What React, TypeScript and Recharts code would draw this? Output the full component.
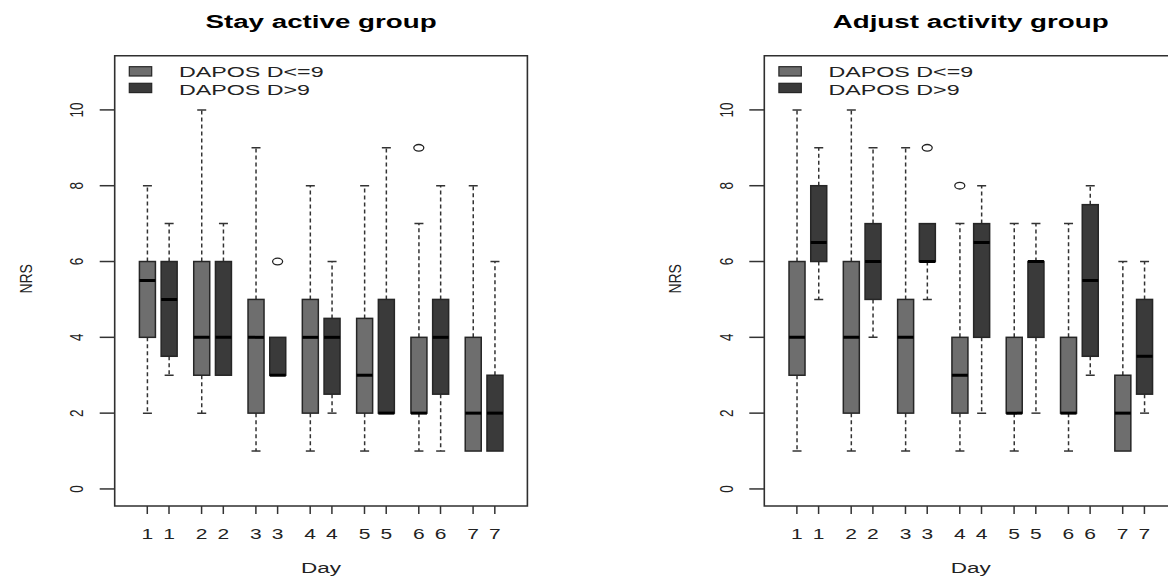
import React from 'react';
import { ComposedChart, Bar, Scatter, XAxis, YAxis, ReferenceArea } from 'recharts';

const positions = [1, 1.4, 2, 2.4, 3, 3.4, 4, 4.4, 5, 5.4, 6, 6.4, 7, 7.4];
const dayLabels = ['1', '1', '2', '2', '3', '3', '4', '4', '5', '5', '6', '6', '7', '7'];
const seriesNames = ['DAPOS D<=9', 'DAPOS D>9'];
const seriesColors = ['#6e6e6e', '#3a3a3a'];
const yTicks = [0, 2, 4, 6, 8, 10];
const xDomain = [0.4, 8.0];
const yDomain = [-0.45, 11.43];

// Stay active group
const stayMin = [2, 3, 2, 3, 1, 3, 1, 2, 1, 2, 1, 1, 1, 1];
const stayQ1 = [4, 3.5, 3, 3, 2, 3, 2, 2.5, 2, 2, 2, 2.5, 1, 1];
const stayMed = [5.5, 5, 4, 4, 4, 3, 4, 4, 3, 2, 2, 4, 2, 2];
const stayQ3 = [6, 6, 6, 6, 5, 4, 5, 4.5, 4.5, 5, 4, 5, 4, 3];
const stayMax = [8, 7, 10, 7, 9, 4, 8, 6, 8, 9, 7, 8, 8, 6];
const stayOutliers = [
  { x: 3.4, y: 6 },
  { x: 6, y: 9 },
];

// Adjust activity group
const adjMin = [1, 5, 1, 4, 1, 5, 1, 2, 1, 2, 1, 3, 1, 2];
const adjQ1 = [3, 6, 2, 5, 2, 6, 2, 4, 2, 4, 2, 3.5, 1, 2.5];
const adjMed = [4, 6.5, 4, 6, 4, 6, 3, 6.5, 2, 6, 2, 5.5, 2, 3.5];
const adjQ3 = [6, 8, 6, 7, 5, 7, 4, 7, 4, 6, 4, 7.5, 3, 5];
const adjMax = [10, 9, 10, 9, 9, 7, 7, 8, 7, 7, 7, 8, 6, 6];
const adjOutliers = [
  { x: 3.4, y: 9 },
  { x: 4, y: 8 },
];

const FONT = '"Liberation Sans", Arial, Helvetica, sans-serif';
const SX = 1.5;

const buildRows = (mn: number[], q1: number[], md: number[], q3: number[], mx: number[]) =>
  positions.map((x, i) => ({
    x,
    lo: mn[i],
    q1: q1[i],
    med: md[i],
    q3: q3[i],
    hi: mx[i],
    group: i % 2,
  }));

const BoxShape = (props: any) => {
  const { x, y, width, height, payload } = props;
  if (payload == null || x == null) return null;
  const top = Math.min(y, y + height);
  const h = Math.abs(height);
  const span = payload.hi - payload.lo;
  const toY = (v: number) => (span === 0 ? top : top + (h * (payload.hi - v)) / span);
  const cx = x + width / 2;
  const capHalf = width / 4 + 0.5;
  const yHi = toY(payload.hi);
  const yLo = toY(payload.lo);
  const yQ1 = toY(payload.q1);
  const yQ3 = toY(payload.q3);
  const yMed = toY(payload.med);
  const dash = { stroke: '#333', strokeWidth: 1.5, strokeDasharray: '4 3' };
  return (
    <g>
      {payload.hi > payload.q3 && (
        <g>
          <line x1={cx} x2={cx} y1={yQ3} y2={yHi} {...dash} />
          <line x1={cx - capHalf} x2={cx + capHalf} y1={yHi} y2={yHi} stroke="#333" strokeWidth={1.5} />
        </g>
      )}
      {payload.lo < payload.q1 && (
        <g>
          <line x1={cx} x2={cx} y1={yQ1} y2={yLo} {...dash} />
          <line x1={cx - capHalf} x2={cx + capHalf} y1={yLo} y2={yLo} stroke="#333" strokeWidth={1.5} />
        </g>
      )}
      <rect
        x={x}
        y={yQ3}
        width={width}
        height={yQ1 - yQ3}
        fill={seriesColors[payload.group]}
        stroke="#262626"
        strokeWidth={1.5}
      />
      <line x1={x} x2={x + width} y1={yMed} y2={yMed} stroke="#000" strokeWidth={3} />
    </g>
  );
};

const OutlierShape = (props: any) => {
  const { cx, cy } = props;
  if (cx == null || cy == null) return null;
  return <ellipse cx={cx} cy={cy} rx={5} ry={3.3} fill="none" stroke="#222" strokeWidth={1.3} />;
};

const XTick = (props: any) => {
  const { x, y, payload } = props;
  const i = positions.indexOf(payload.value);
  return (
    <text
      transform={`translate(${x},${y + 23}) scale(${SX},1)`}
      textAnchor="middle"
      fontSize={14}
      fill="#222"
      fontFamily={FONT}
    >
      {i >= 0 ? dayLabels[i] : ''}
    </text>
  );
};

const YTick = (props: any) => {
  const { x, y, payload } = props;
  return (
    <text
      transform={`translate(${x - 21},${y}) scale(1.4,1) rotate(-90)`}
      textAnchor="middle"
      dy="0.35em"
      fontSize={13.5}
      fill="#222"
      fontFamily={FONT}
    >
      {payload.value}
    </text>
  );
};

type PanelProps = {
  title: string;
  rows: any[];
  outliers: { x: number; y: number }[];
  left: number;
  width: number;
  yAxisWidth: number;
  rightMargin: number;
};

const PLOT_TOP = 55.7;
const XAXIS_H = 70;
const CH = 576;

const Panel = ({ title, rows, outliers, left, width, yAxisWidth, rightMargin }: PanelProps) => {
  const plotLeft = yAxisWidth;
  const plotWidth = width - yAxisWidth - rightMargin;
  const cx = plotLeft + plotWidth / 2;
  const plotBottom = CH - XAXIS_H;
  return (
    <div style={{ position: 'absolute', left, top: 0, width, height: CH }}>
      <ComposedChart
        width={width}
        height={CH}
        data={rows}
        margin={{ top: PLOT_TOP, right: rightMargin, bottom: 0, left: 0 }}
      >
        <XAxis
          dataKey="x"
          type="number"
          domain={xDomain}
          allowDataOverflow
          ticks={positions}
          interval={0}
          tick={<XTick />}
          tickSize={8}
          tickLine={{ stroke: '#333', strokeWidth: 1.5 }}
          axisLine={false}
          height={XAXIS_H}
        />
        <YAxis
          type="number"
          domain={yDomain}
          allowDataOverflow
          ticks={yTicks}
          interval={0}
          tick={<YTick />}
          tickSize={15}
          tickLine={{ stroke: '#333', strokeWidth: 1.5 }}
          axisLine={false}
          width={yAxisWidth}
        />
        <ReferenceArea
          x1={xDomain[0]}
          x2={xDomain[1]}
          y1={yDomain[0]}
          y2={yDomain[1]}
          fill="none"
          fillOpacity={0}
          stroke="#2f2f2f"
          strokeWidth={1.6}
          ifOverflow="visible"
        />
        <Bar
          dataKey={(d: any) => [d.lo, d.hi]}
          barSize={16}
          shape={<BoxShape />}
          isAnimationActive={false}
        />
        <Scatter
          data={outliers}
          dataKey="y"
          shape={<OutlierShape />}
          isAnimationActive={false}
        />
      </ComposedChart>
      <svg
        width={width}
        height={CH}
        style={{ position: 'absolute', left: 0, top: 0, pointerEvents: 'none' }}
      >
        <text
          transform={`translate(${cx},27.5) scale(${SX},1)`}
          textAnchor="middle"
          fontSize={18.5}
          fontWeight="bold"
          fill="#000"
          fontFamily={FONT}
        >
          {title}
        </text>
        {seriesNames.map((name, i) => (
          <g key={name}>
            <rect
              x={plotLeft + 14.6}
              y={66.7 + i * 16.6}
              width={22.4}
              height={9.3}
              fill={seriesColors[i]}
              stroke="#262626"
              strokeWidth={1.2}
            />
            <text
              transform={`translate(${plotLeft + 64.2},${77.3 + i * 17.8}) scale(${SX},1)`}
              fontSize={15.5}
              fill="#222"
              fontFamily={FONT}
            >
              {name}
            </text>
          </g>
        ))}
        <text
          transform={`translate(${cx},573.3) scale(${SX},1)`}
          textAnchor="middle"
          fontSize={15}
          fill="#222"
          fontFamily={FONT}
        >
          Day
        </text>
        <text
          transform={`translate(${plotLeft - 89},${(PLOT_TOP + plotBottom) / 2 - 2}) scale(1.2,1) rotate(-90)`}
          textAnchor="middle"
          dy="0.35em"
          fontSize={14}
          fill="#222"
          fontFamily={FONT}
        >
          NRS
        </text>
      </svg>
    </div>
  );
};

const stayRows = buildRows(stayMin, stayQ1, stayMed, stayQ3, stayMax);
const adjRows = buildRows(adjMin, adjQ1, adjMed, adjQ3, adjMax);

export default function App() {
  return (
    <div
      style={{
        position: 'fixed',
        left: 0,
        top: 0,
        width: 1168,
        height: 576,
        overflow: 'hidden',
        background: '#fff',
      }}
    >
      <Panel
        title="Stay active group"
        rows={stayRows}
        outliers={stayOutliers}
        left={0}
        width={584}
        yAxisWidth={114.7}
        rightMargin={56.6}
      />
      <Panel
        title="Adjust activity group"
        rows={adjRows}
        outliers={adjOutliers}
        left={584}
        width={600}
        yAxisWidth={180.3}
        rightMargin={7}
      />
    </div>
  );
}
